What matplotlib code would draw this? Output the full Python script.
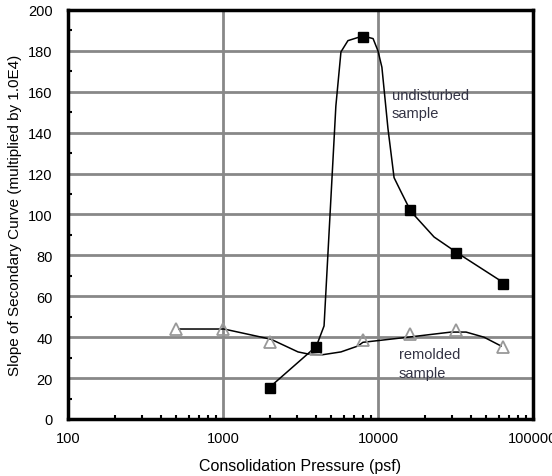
import matplotlib
matplotlib.use("Agg")
import matplotlib.pyplot as plt
from matplotlib.ticker import FixedLocator, LogLocator, NullFormatter, MultipleLocator

plt.rcParams['font.family'] = ['Liberation Sans', 'DejaVu Sans']

# Marker data
undist_x = [2000, 4000, 8000, 16000, 32000, 64000]
undist_y = [15, 35, 187, 102, 81, 66]
remold_x = [500, 1000, 2000, 4000, 8000, 16000, 32000, 64000]
remold_y = [44, 44, 37.5, 34, 38.5, 41.5, 43.5, 35]

# Hand-drawn trend curves
undist_curve_x = [2000, 4000, 4490, 5350, 5770, 6400, 8000, 9300, 10000, 10600,
                  11600, 12700, 14100, 16300, 23000, 32800, 65000]
undist_curve_y = [15.5, 35.5, 45.5, 153, 179.5, 185, 187.3, 186, 180, 172,
                  142, 118, 111, 101.5, 89, 81, 66.5]
remold_curve_x = [520, 1015, 2040, 3050, 3535, 4280, 5770, 7430, 8000, 15600,
                  29600, 37000, 48300, 62200]
remold_curve_y = [44, 44, 39, 32.8, 31.8, 31.3, 32.8, 35.7, 37.5, 40,
                  42.5, 42.5, 40, 35.7]

x_ticks = [100, 1000, 10000, 100000]
x_tick_labels = ["100", "1000", "10000", "100000"]
y_ticks = [0, 20, 40, 60, 80, 100, 120, 140, 160, 180, 200]

fig = plt.figure(figsize=(5.52, 4.77), dpi=100)
ax = fig.add_axes([0.123, 0.1195, 0.8426, 0.8575])

ax.set_xscale('log')
ax.set_xlim(100, 100000)
ax.set_ylim(0, 200)

ax.plot(undist_curve_x, undist_curve_y, color='black', lw=1.1, zorder=3)
ax.plot(remold_curve_x, remold_curve_y, color='black', lw=1.1, zorder=3)
ax.plot(undist_x, undist_y, linestyle='none', marker='s', markersize=6.5,
        markerfacecolor='black', markeredgecolor='black', zorder=5)
ax.plot(remold_x, remold_y, linestyle='none', marker='^', markersize=8.5,
        markerfacecolor='none', markeredgecolor='#999999', markeredgewidth=1.3, zorder=4)

ax.xaxis.set_major_locator(FixedLocator(x_ticks))
ax.set_xticklabels(x_tick_labels)
ax.xaxis.set_minor_locator(LogLocator(base=10, subs=range(2, 10)))
ax.xaxis.set_minor_formatter(NullFormatter())
ax.yaxis.set_major_locator(FixedLocator(y_ticks))
ax.yaxis.set_minor_locator(MultipleLocator(10))

ax.grid(True, which='major', color='#888888', lw=2.0, zorder=1)
ax.set_axisbelow(True)

for s in ax.spines.values():
    s.set_linewidth(2.5)
    s.set_color('black')
    s.set_zorder(6)

ax.tick_params(axis='both', which='major', length=0, labelsize=10.5, colors='black')
ax.tick_params(axis='x', which='major', pad=9)
ax.tick_params(axis='y', which='major', pad=11)
ax.tick_params(axis='both', which='minor', direction='in', length=3, width=1.5, color='black')

ax.set_xlabel("Consolidation Pressure (psf)", fontsize=11.5, labelpad=9)
ax.set_ylabel("Slope of Secondary Curve (multiplied by 1.0E4)", fontsize=11, labelpad=4)

ax.text(12300, 162, "undisturbed\nsample", fontsize=10.5, color='#333344',
        va='top', ha='left', linespacing=1.4)
ax.text(13600, 35, "remolded\nsample", fontsize=10.5, color='#333344',
        va='top', ha='left', linespacing=1.45)

fig.savefig("out.png", dpi=100)
